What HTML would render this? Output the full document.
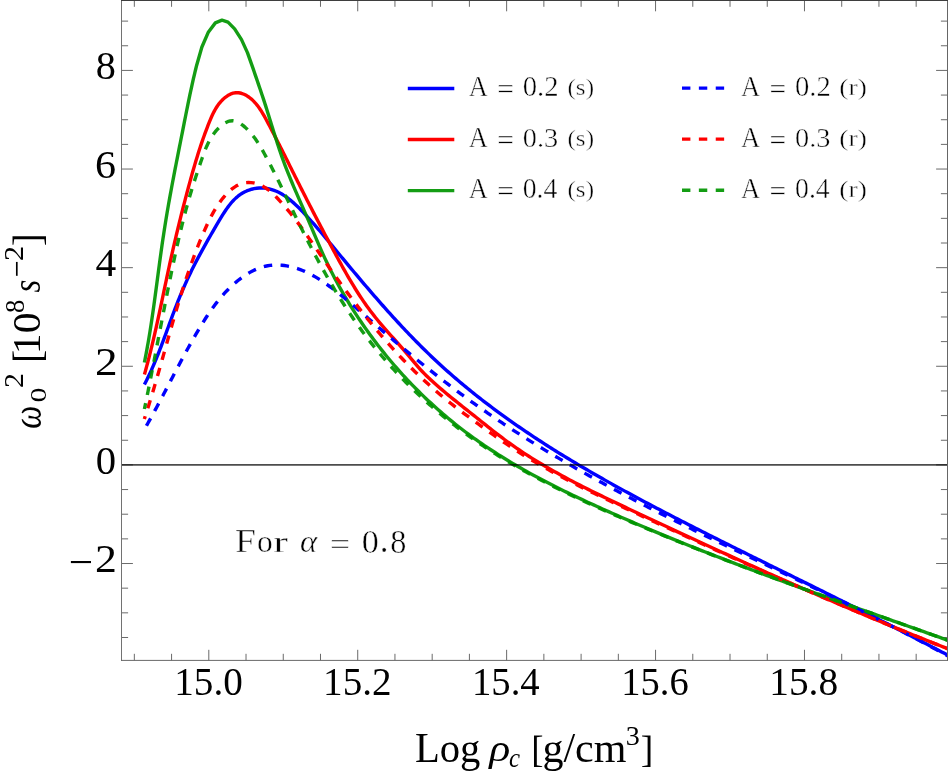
<!DOCTYPE html>
<html lang="en"><head><meta charset="utf-8"><title>Plot</title>
<style>
html,body{margin:0;padding:0;background:#ffffff;}
body{width:948px;height:778px;position:relative;overflow:hidden;font-family:"Liberation Serif",serif;}
svg text{font-family:"Liberation Serif",serif;white-space:pre;}
</style></head><body>
<svg width="948" height="778" viewBox="0 0 948 778" style="position:absolute;left:0;top:0;display:block">
<rect x="0" y="0" width="948" height="778" fill="#ffffff"/>
<defs><clipPath id="pc"><rect x="121.50" y="0.50" width="826.00" height="659.90"/></clipPath></defs>
<path d="M134.34,660.40 v-6.60 M134.34,0.50 v6.30 M171.57,660.40 v-6.60 M171.57,0.50 v6.30 M208.80,660.40 v-10.60 M208.80,0.50 v10.80 M246.03,660.40 v-6.60 M246.03,0.50 v6.30 M283.26,660.40 v-6.60 M283.26,0.50 v6.30 M320.49,660.40 v-6.60 M320.49,0.50 v6.30 M357.72,660.40 v-10.60 M357.72,0.50 v10.80 M394.95,660.40 v-6.60 M394.95,0.50 v6.30 M432.18,660.40 v-6.60 M432.18,0.50 v6.30 M469.41,660.40 v-6.60 M469.41,0.50 v6.30 M506.64,660.40 v-10.60 M506.64,0.50 v10.80 M543.87,660.40 v-6.60 M543.87,0.50 v6.30 M581.10,660.40 v-6.60 M581.10,0.50 v6.30 M618.33,660.40 v-6.60 M618.33,0.50 v6.30 M655.56,660.40 v-10.60 M655.56,0.50 v10.80 M692.79,660.40 v-6.60 M692.79,0.50 v6.30 M730.02,660.40 v-6.60 M730.02,0.50 v6.30 M767.25,660.40 v-6.60 M767.25,0.50 v6.30 M804.48,660.40 v-10.60 M804.48,0.50 v10.80 M841.71,660.40 v-6.60 M841.71,0.50 v6.30 M878.94,660.40 v-6.60 M878.94,0.50 v6.30 M916.17,660.40 v-6.60 M916.17,0.50 v6.30 M121.50,637.49 h6.60 M947.50,637.49 h-6.60 M121.50,612.83 h6.60 M947.50,612.83 h-6.60 M121.50,588.17 h6.60 M947.50,588.17 h-6.60 M121.50,563.52 h11.40 M947.50,563.52 h-11.40 M121.50,538.87 h6.60 M947.50,538.87 h-6.60 M121.50,514.21 h6.60 M947.50,514.21 h-6.60 M121.50,489.55 h6.60 M947.50,489.55 h-6.60 M121.50,464.90 h11.40 M947.50,464.90 h-11.40 M121.50,440.25 h6.60 M947.50,440.25 h-6.60 M121.50,415.59 h6.60 M947.50,415.59 h-6.60 M121.50,390.93 h6.60 M947.50,390.93 h-6.60 M121.50,366.28 h11.40 M947.50,366.28 h-11.40 M121.50,341.62 h6.60 M947.50,341.62 h-6.60 M121.50,316.97 h6.60 M947.50,316.97 h-6.60 M121.50,292.31 h6.60 M947.50,292.31 h-6.60 M121.50,267.66 h11.40 M947.50,267.66 h-11.40 M121.50,243.00 h6.60 M947.50,243.00 h-6.60 M121.50,218.35 h6.60 M947.50,218.35 h-6.60 M121.50,193.69 h6.60 M947.50,193.69 h-6.60 M121.50,169.04 h11.40 M947.50,169.04 h-11.40 M121.50,144.38 h6.60 M947.50,144.38 h-6.60 M121.50,119.73 h6.60 M947.50,119.73 h-6.60 M121.50,95.07 h6.60 M947.50,95.07 h-6.60 M121.50,70.42 h11.40 M947.50,70.42 h-11.40 M121.50,45.76 h6.60 M947.50,45.76 h-6.60 M121.50,21.11 h6.60 M947.50,21.11 h-6.60" stroke="#6a6a6a" stroke-width="1" fill="none"/>
<g clip-path="url(#pc)" fill="none" stroke-width="3.40" stroke-linejoin="round">
<path d="M144.41,384.50 L145.59,382.21 L146.75,379.90 L147.89,377.59 L149.00,375.26 L150.09,372.93 L151.16,370.59 L152.21,368.24 L153.24,365.88 L154.25,363.52 L155.25,361.15 L156.23,358.77 L157.20,356.39 L158.15,354.00 L159.09,351.61 L160.02,349.21 L160.94,346.81 L161.86,344.40 L162.76,341.99 L163.66,339.58 L164.55,337.17 L165.44,334.75 L166.33,332.34 L167.21,329.92 L168.10,327.50 L168.98,325.08 L169.87,322.67 L170.76,320.25 L171.65,317.83 L172.55,315.42 L173.45,313.01 L174.37,310.60 L175.29,308.19 L176.22,305.79 L177.16,303.39 L178.11,300.99 L179.08,298.60 L180.05,296.22 L181.05,293.84 L182.05,291.46 L183.07,289.09 L184.10,286.73 L185.14,284.37 L186.20,282.02 L187.27,279.67 L188.35,277.33 L189.45,275.00 L190.56,272.67 L191.68,270.35 L192.82,268.04 L193.98,265.74 L195.15,263.44 L196.33,261.15 L197.53,258.87 L198.74,256.60 L199.96,254.33 L201.19,252.08 L202.43,249.83 L203.67,247.59 L204.92,245.35 L206.17,243.13 L207.42,240.90 L208.67,238.69 L209.93,236.47 L211.20,234.26 L212.47,232.05 L213.75,229.83 L215.05,227.62 L216.35,225.40 L217.67,223.17 L219.01,220.94 L220.36,218.70 L221.73,216.45 L223.13,214.21 L224.55,211.98 L226.02,209.78 L227.54,207.62 L229.11,205.52 L230.74,203.48 L232.43,201.51 L234.21,199.64 L236.06,197.87 L238.01,196.21 L240.05,194.68 L242.19,193.29 L244.43,192.04 L246.75,190.95 L249.14,190.01 L251.59,189.24 L254.09,188.65 L256.62,188.23 L259.17,188.00 L261.72,187.95 L264.27,188.10 L266.79,188.42 L269.27,188.90 L271.70,189.55 L274.07,190.34 L276.39,191.27 L278.66,192.33 L280.89,193.51 L283.06,194.80 L285.20,196.20 L287.29,197.69 L289.34,199.26 L291.36,200.91 L293.34,202.63 L295.29,204.40 L297.20,206.22 L299.09,208.08 L300.95,209.97 L302.78,211.89 L304.59,213.81 L306.38,215.74 L308.15,217.68 L309.90,219.61 L311.63,221.55 L313.34,223.49 L315.05,225.43 L316.73,227.37 L318.41,229.32 L320.07,231.26 L321.73,233.21 L323.38,235.16 L325.02,237.12 L326.65,239.07 L328.28,241.03 L329.90,242.99 L331.52,244.94 L333.14,246.91 L334.77,248.87 L336.39,250.83 L338.01,252.80 L339.64,254.76 L341.27,256.73 L342.90,258.70 L344.54,260.67 L346.17,262.64 L347.81,264.61 L349.45,266.58 L351.10,268.55 L352.74,270.52 L354.39,272.49 L356.05,274.46 L357.70,276.43 L359.36,278.40 L361.02,280.36 L362.69,282.33 L364.36,284.29 L366.03,286.25 L367.70,288.21 L369.38,290.17 L371.06,292.13 L372.75,294.08 L374.44,296.04 L376.14,297.99 L377.84,299.93 L379.54,301.88 L381.25,303.82 L382.96,305.75 L384.67,307.69 L386.39,309.62 L388.12,311.54 L389.85,313.47 L391.58,315.38 L393.32,317.30 L395.06,319.21 L396.81,321.11 L398.57,323.01 L400.33,324.91 L402.09,326.80 L403.86,328.68 L405.64,330.56 L407.42,332.43 L409.20,334.30 L411.00,336.16 L412.79,338.01 L414.60,339.86 L416.41,341.71 L418.22,343.54 L420.05,345.37 L421.87,347.19 L423.71,349.00 L425.55,350.81 L427.40,352.61 L429.25,354.40 L431.11,356.18 L432.98,357.96 L434.86,359.73 L436.74,361.48 L438.62,363.23 L440.52,364.98 L442.42,366.71 L444.33,368.43 L446.25,370.15 L448.17,371.86 L450.10,373.56 L452.03,375.25 L453.97,376.94 L455.92,378.61 L457.87,380.28 L459.83,381.94 L461.80,383.60 L463.77,385.24 L465.75,386.88 L467.73,388.51 L469.73,390.13 L471.72,391.75 L473.72,393.36 L475.73,394.96 L477.75,396.55 L479.76,398.14 L481.79,399.72 L483.82,401.29 L485.86,402.86 L487.90,404.42 L489.94,405.97 L492.00,407.51 L494.05,409.05 L496.12,410.58 L498.18,412.10 L500.26,413.62 L502.33,415.13 L504.42,416.64 L506.50,418.14 L508.60,419.63 L510.69,421.11 L512.79,422.59 L514.90,424.07 L517.01,425.53 L519.13,426.99 L521.25,428.45 L523.37,429.90 L525.50,431.34 L527.63,432.78 L529.77,434.21 L531.91,435.64 L534.06,437.06 L536.21,438.47 L538.36,439.88 L540.52,441.28 L542.68,442.68 L544.85,444.07 L547.01,445.46 L549.19,446.84 L551.36,448.22 L553.54,449.59 L555.73,450.96 L557.91,452.32 L560.11,453.68 L562.30,455.03 L564.50,456.37 L566.70,457.72 L568.90,459.05 L571.11,460.39 L573.32,461.71 L575.53,463.04 L577.75,464.36 L579.96,465.67 L582.19,466.98 L584.41,468.29 L586.64,469.59 L588.87,470.89 L591.10,472.18 L593.33,473.47 L595.57,474.75 L597.81,476.04 L600.05,477.31 L602.30,478.59 L604.54,479.86 L606.79,481.12 L609.04,482.38 L611.30,483.64 L613.55,484.90 L615.81,486.15 L618.07,487.40 L620.33,488.64 L622.59,489.88 L624.85,491.12 L627.12,492.36 L629.39,493.59 L631.66,494.82 L633.93,496.04 L636.20,497.27 L638.47,498.49 L640.74,499.70 L643.02,500.92 L645.30,502.13 L647.58,503.34 L649.85,504.55 L652.13,505.75 L654.42,506.95 L656.70,508.15 L658.98,509.35 L661.26,510.54 L663.55,511.73 L665.83,512.92 L668.12,514.11 L670.41,515.29 L672.69,516.48 L674.98,517.66 L677.27,518.84 L679.56,520.01 L681.85,521.19 L684.14,522.36 L686.43,523.54 L688.72,524.71 L691.01,525.87 L693.31,527.04 L695.60,528.20 L697.89,529.37 L700.19,530.53 L702.48,531.69 L704.78,532.85 L707.08,534.01 L709.37,535.16 L711.67,536.32 L713.97,537.47 L716.27,538.62 L718.57,539.77 L720.87,540.92 L723.17,542.07 L725.47,543.22 L727.77,544.37 L730.07,545.51 L732.37,546.66 L734.67,547.80 L736.97,548.95 L739.27,550.09 L741.58,551.23 L743.88,552.37 L746.18,553.51 L748.49,554.65 L750.79,555.79 L753.09,556.93 L755.40,558.07 L757.70,559.21 L760.01,560.35 L762.31,561.48 L764.62,562.62 L766.92,563.76 L769.23,564.90 L771.54,566.03 L773.84,567.17 L776.15,568.31 L778.45,569.44 L780.76,570.58 L783.07,571.72 L785.37,572.86 L787.68,573.99 L789.99,575.13 L792.29,576.27 L794.60,577.41 L796.91,578.55 L799.21,579.69 L801.52,580.83 L803.83,581.97 L806.13,583.11 L808.44,584.25 L810.75,585.39 L813.05,586.53 L815.36,587.68 L817.67,588.82 L819.97,589.97 L822.28,591.11 L824.59,592.26 L826.89,593.41 L829.20,594.56 L831.50,595.71 L833.81,596.86 L836.12,598.01 L838.42,599.16 L840.73,600.31 L843.03,601.47 L845.33,602.62 L847.64,603.78 L849.94,604.93 L852.24,606.09 L854.55,607.25 L856.85,608.41 L859.15,609.57 L861.45,610.73 L863.76,611.89 L866.06,613.05 L868.36,614.22 L870.66,615.38 L872.96,616.55 L875.26,617.71 L877.55,618.88 L879.85,620.05 L882.15,621.22 L884.45,622.39 L886.74,623.56 L889.04,624.73 L891.33,625.90 L893.63,627.07 L895.92,628.25 L898.22,629.42 L900.51,630.60 L902.80,631.77 L905.09,632.95 L907.38,634.13 L909.67,635.30 L911.96,636.48 L914.25,637.66 L916.53,638.85 L918.82,640.03 L921.11,641.21 L923.39,642.39 L925.67,643.58 L927.96,644.76 L930.24,645.95 L932.52,647.14 L934.80,648.32 L937.08,649.51 L939.36,650.70 L941.63,651.89 L943.91,653.08 L946.19,654.28 L948.46,655.47" stroke="#0000ff"/>
<path d="M144.44,374.51 L145.24,371.65 L146.03,368.79 L146.80,365.92 L147.57,363.06 L148.32,360.19 L149.06,357.32 L149.79,354.45 L150.50,351.57 L151.21,348.70 L151.91,345.82 L152.60,342.94 L153.28,340.06 L153.95,337.18 L154.61,334.30 L155.27,331.42 L155.92,328.53 L156.57,325.65 L157.20,322.76 L157.84,319.87 L158.47,316.98 L159.09,314.09 L159.71,311.20 L160.33,308.31 L160.94,305.42 L161.56,302.52 L162.17,299.63 L162.78,296.73 L163.39,293.84 L164.00,290.94 L164.60,288.04 L165.21,285.15 L165.83,282.25 L166.44,279.35 L167.05,276.45 L167.67,273.55 L168.29,270.65 L168.92,267.76 L169.55,264.86 L170.18,261.96 L170.82,259.06 L171.47,256.16 L172.12,253.26 L172.78,250.36 L173.44,247.46 L174.10,244.57 L174.78,241.67 L175.46,238.77 L176.14,235.88 L176.83,232.99 L177.52,230.09 L178.22,227.20 L178.92,224.32 L179.63,221.43 L180.35,218.55 L181.06,215.67 L181.79,212.79 L182.52,209.91 L183.25,207.04 L183.99,204.17 L184.73,201.30 L185.48,198.44 L186.23,195.58 L186.99,192.72 L187.75,189.87 L188.52,187.02 L189.29,184.17 L190.06,181.33 L190.84,178.50 L191.63,175.66 L192.43,172.83 L193.23,170.01 L194.05,167.18 L194.88,164.36 L195.71,161.54 L196.57,158.73 L197.43,155.91 L198.31,153.09 L199.21,150.28 L200.12,147.47 L201.06,144.66 L202.01,141.84 L202.98,139.03 L203.98,136.22 L204.99,133.41 L206.04,130.59 L207.10,127.78 L208.19,124.96 L209.31,122.14 L210.46,119.33 L211.67,116.54 L212.95,113.80 L214.32,111.12 L215.79,108.51 L217.39,106.01 L219.12,103.61 L221.02,101.35 L223.08,99.23 L225.34,97.28 L227.78,95.56 L230.36,94.17 L233.05,93.19 L235.80,92.71 L238.58,92.74 L241.32,93.28 L244.01,94.26 L246.61,95.61 L249.09,97.24 L251.42,99.10 L253.58,101.13 L255.59,103.29 L257.47,105.59 L259.23,107.99 L260.90,110.48 L262.48,113.04 L264.00,115.65 L265.46,118.30 L266.90,120.96 L268.32,123.62 L269.73,126.28 L271.13,128.93 L272.52,131.59 L273.89,134.24 L275.26,136.88 L276.61,139.53 L277.96,142.17 L279.31,144.81 L280.64,147.45 L281.97,150.09 L283.30,152.73 L284.62,155.36 L285.93,158.00 L287.25,160.63 L288.56,163.26 L289.87,165.90 L291.19,168.53 L292.50,171.16 L293.81,173.80 L295.13,176.43 L296.45,179.06 L297.77,181.70 L299.09,184.34 L300.42,186.97 L301.76,189.61 L303.09,192.25 L304.43,194.89 L305.78,197.53 L307.12,200.17 L308.47,202.80 L309.83,205.44 L311.19,208.08 L312.55,210.72 L313.91,213.36 L315.28,215.99 L316.65,218.63 L318.03,221.26 L319.41,223.90 L320.79,226.53 L322.17,229.16 L323.56,231.79 L324.95,234.42 L326.34,237.04 L327.74,239.67 L329.14,242.29 L330.55,244.91 L331.95,247.52 L333.36,250.14 L334.77,252.75 L336.19,255.36 L337.61,257.97 L339.03,260.57 L340.46,263.17 L341.89,265.76 L343.33,268.35 L344.79,270.93 L346.25,273.50 L347.72,276.07 L349.21,278.63 L350.71,281.17 L352.22,283.71 L353.76,286.24 L355.30,288.75 L356.87,291.25 L358.46,293.74 L360.07,296.21 L361.70,298.67 L363.35,301.12 L365.03,303.54 L366.73,305.95 L368.46,308.35 L370.22,310.72 L372.01,313.08 L373.83,315.41 L375.68,317.73 L377.55,320.03 L379.45,322.31 L381.38,324.58 L383.32,326.83 L385.27,329.08 L387.24,331.31 L389.21,333.54 L391.19,335.77 L393.18,337.99 L395.16,340.21 L397.14,342.43 L399.12,344.65 L401.08,346.88 L403.04,349.11 L404.97,351.35 L406.89,353.60 L408.79,355.86 L410.67,358.13 L412.55,360.39 L414.44,362.65 L416.34,364.90 L418.27,367.12 L420.24,369.31 L422.25,371.47 L424.31,373.60 L426.41,375.69 L428.54,377.75 L430.71,379.79 L432.90,381.80 L435.11,383.79 L437.34,385.75 L439.58,387.70 L441.83,389.63 L444.09,391.55 L446.36,393.45 L448.64,395.34 L450.93,397.21 L453.23,399.08 L455.53,400.94 L457.83,402.79 L460.14,404.64 L462.46,406.48 L464.77,408.32 L467.09,410.16 L469.41,412.00 L471.73,413.84 L474.05,415.69 L476.37,417.54 L478.69,419.39 L481.01,421.24 L483.34,423.10 L485.66,424.95 L487.99,426.80 L490.32,428.64 L492.66,430.48 L495.00,432.30 L497.36,434.12 L499.71,435.92 L502.08,437.72 L504.46,439.49 L506.85,441.25 L509.25,442.99 L511.66,444.71 L514.08,446.42 L516.51,448.10 L518.96,449.77 L521.41,451.42 L523.88,453.05 L526.36,454.66 L528.84,456.26 L531.34,457.84 L533.85,459.41 L536.36,460.96 L538.89,462.49 L541.42,464.01 L543.96,465.52 L546.51,467.01 L549.07,468.49 L551.63,469.96 L554.21,471.41 L556.79,472.85 L559.38,474.28 L561.97,475.70 L564.57,477.11 L567.18,478.51 L569.79,479.90 L572.41,481.27 L575.04,482.64 L577.67,484.00 L580.30,485.35 L582.94,486.70 L585.59,488.03 L588.24,489.36 L590.89,490.68 L593.55,492.00 L596.21,493.30 L598.87,494.61 L601.54,495.90 L604.21,497.20 L606.88,498.48 L609.55,499.77 L612.23,501.05 L614.90,502.33 L617.58,503.60 L620.26,504.87 L622.95,506.14 L625.63,507.41 L628.31,508.68 L630.99,509.94 L633.68,511.21 L636.36,512.47 L639.05,513.74 L641.73,515.00 L644.41,516.26 L647.10,517.52 L649.78,518.78 L652.47,520.04 L655.15,521.30 L657.84,522.56 L660.52,523.82 L663.21,525.07 L665.90,526.33 L668.58,527.58 L671.27,528.83 L673.96,530.09 L676.64,531.34 L679.33,532.59 L682.02,533.84 L684.71,535.08 L687.40,536.33 L690.09,537.58 L692.78,538.82 L695.47,540.07 L698.16,541.31 L700.85,542.55 L703.54,543.79 L706.23,545.03 L708.92,546.27 L711.62,547.50 L714.31,548.74 L717.00,549.97 L719.70,551.21 L722.39,552.44 L725.09,553.67 L727.78,554.90 L730.48,556.13 L733.18,557.36 L735.87,558.58 L738.57,559.81 L741.27,561.03 L743.97,562.25 L746.67,563.47 L749.37,564.69 L752.07,565.91 L754.77,567.12 L757.47,568.34 L760.17,569.55 L762.87,570.76 L765.58,571.97 L768.28,573.18 L770.98,574.39 L773.69,575.60 L776.39,576.80 L779.10,578.00 L781.81,579.21 L784.52,580.40 L787.22,581.60 L789.93,582.80 L792.64,583.99 L795.35,585.19 L798.06,586.38 L800.78,587.57 L803.49,588.76 L806.20,589.94 L808.92,591.13 L811.63,592.31 L814.35,593.49 L817.06,594.67 L819.78,595.85 L822.50,597.03 L825.22,598.20 L827.94,599.38 L830.66,600.55 L833.38,601.72 L836.10,602.88 L838.82,604.05 L841.55,605.21 L844.27,606.37 L847.00,607.53 L849.72,608.69 L852.45,609.85 L855.18,611.00 L857.91,612.15 L860.64,613.30 L863.37,614.45 L866.10,615.60 L868.83,616.74 L871.56,617.88 L874.30,619.02 L877.03,620.16 L879.77,621.30 L882.51,622.43 L885.25,623.56 L887.99,624.69 L890.73,625.82 L893.47,626.94 L896.21,628.07 L898.95,629.19 L901.70,630.31 L904.44,631.42 L907.19,632.54 L909.94,633.65 L912.68,634.76 L915.43,635.87 L918.19,636.97 L920.94,638.08 L923.69,639.18 L926.44,640.27 L929.20,641.37 L931.96,642.46 L934.71,643.55 L937.47,644.64 L940.23,645.73 L942.99,646.81 L945.75,647.90 L948.52,648.98" stroke="#ff0000"/>
<path d="M144.39,362.50 L145.03,359.29 L145.66,356.07 L146.28,352.86 L146.88,349.64 L147.46,346.42 L148.03,343.19 L148.59,339.96 L149.13,336.73 L149.67,333.50 L150.19,330.27 L150.70,327.03 L151.20,323.79 L151.69,320.55 L152.17,317.31 L152.65,314.07 L153.11,310.83 L153.58,307.58 L154.03,304.33 L154.48,301.09 L154.92,297.84 L155.36,294.59 L155.80,291.34 L156.24,288.09 L156.67,284.84 L157.10,281.59 L157.53,278.33 L157.96,275.08 L158.39,271.83 L158.82,268.58 L159.26,265.33 L159.69,262.08 L160.13,258.84 L160.58,255.59 L161.03,252.34 L161.48,249.10 L161.94,245.85 L162.40,242.61 L162.88,239.37 L163.36,236.13 L163.84,232.89 L164.34,229.65 L164.85,226.42 L165.37,223.19 L165.89,219.96 L166.43,216.73 L166.97,213.50 L167.52,210.28 L168.08,207.05 L168.64,203.83 L169.21,200.61 L169.79,197.39 L170.38,194.17 L170.97,190.95 L171.56,187.74 L172.16,184.52 L172.77,181.30 L173.38,178.09 L173.99,174.87 L174.61,171.66 L175.23,168.44 L175.86,165.23 L176.49,162.01 L177.12,158.80 L177.75,155.58 L178.38,152.37 L179.02,149.15 L179.65,145.93 L180.29,142.72 L180.93,139.50 L181.56,136.28 L182.20,133.06 L182.84,129.84 L183.47,126.62 L184.11,123.40 L184.74,120.18 L185.38,116.96 L186.02,113.74 L186.67,110.52 L187.32,107.30 L187.97,104.09 L188.63,100.87 L189.30,97.66 L189.97,94.46 L190.66,91.25 L191.35,88.06 L192.05,84.86 L192.76,81.67 L193.48,78.49 L194.22,75.31 L194.97,72.14 L195.73,68.98 L196.50,65.82 L196.53,65.70 L201.90,47.02 L208.46,31.93 L215.35,22.89 L221.98,20.20 L228.01,22.11 L234.62,28.86 L241.51,39.59 L247.44,52.62 L253.38,69.43 L254.17,71.73 L255.22,74.83 L256.28,77.92 L257.35,81.02 L258.41,84.12 L259.47,87.22 L260.53,90.32 L261.57,93.42 L262.61,96.53 L263.64,99.65 L264.65,102.76 L265.65,105.89 L266.64,109.01 L267.62,112.14 L268.59,115.27 L269.56,118.40 L270.53,121.53 L271.50,124.67 L272.47,127.80 L273.44,130.93 L274.42,134.06 L275.40,137.18 L276.40,140.30 L277.40,143.42 L278.42,146.53 L279.46,149.64 L280.51,152.74 L281.59,155.83 L282.68,158.92 L283.80,161.99 L284.95,165.06 L286.12,168.11 L287.31,171.16 L288.53,174.20 L289.76,177.23 L291.01,180.26 L292.28,183.28 L293.56,186.30 L294.85,189.31 L296.16,192.32 L297.47,195.32 L298.78,198.33 L300.10,201.33 L301.42,204.33 L302.74,207.33 L304.05,210.33 L305.37,213.33 L306.67,216.34 L307.97,219.35 L309.26,222.36 L310.54,225.37 L311.82,228.39 L313.10,231.40 L314.38,234.41 L315.66,237.43 L316.95,240.44 L318.24,243.44 L319.54,246.44 L320.86,249.44 L322.19,252.43 L323.54,255.41 L324.91,258.38 L326.30,261.34 L327.71,264.30 L329.14,267.24 L330.60,270.18 L332.08,273.10 L333.58,276.01 L335.11,278.92 L336.65,281.81 L338.22,284.69 L339.81,287.56 L341.42,290.41 L343.05,293.26 L344.71,296.09 L346.38,298.92 L348.07,301.73 L349.78,304.53 L351.51,307.31 L353.27,310.09 L355.04,312.85 L356.83,315.60 L358.63,318.33 L360.46,321.06 L362.31,323.77 L364.17,326.46 L366.05,329.15 L367.95,331.82 L369.87,334.47 L371.80,337.12 L373.76,339.75 L375.73,342.36 L377.72,344.96 L379.73,347.55 L381.75,350.12 L383.79,352.68 L385.85,355.22 L387.93,357.75 L390.03,360.27 L392.14,362.77 L394.27,365.25 L396.41,367.72 L398.58,370.18 L400.76,372.61 L402.96,375.04 L405.17,377.45 L407.40,379.84 L409.65,382.21 L411.92,384.58 L414.20,386.92 L416.50,389.25 L418.81,391.56 L421.14,393.86 L423.49,396.13 L425.85,398.40 L428.23,400.64 L430.63,402.87 L433.04,405.08 L435.47,407.28 L437.92,409.46 L440.38,411.62 L442.85,413.76 L445.34,415.88 L447.85,417.99 L450.37,420.08 L452.91,422.15 L455.47,424.21 L458.04,426.24 L460.62,428.26 L463.22,430.26 L465.84,432.24 L468.47,434.20 L471.11,436.14 L473.77,438.07 L476.44,439.97 L479.13,441.86 L481.83,443.73 L484.54,445.58 L487.27,447.41 L490.01,449.23 L492.75,451.02 L495.51,452.80 L498.28,454.57 L501.06,456.31 L503.84,458.04 L506.64,459.75 L509.44,461.45 L512.25,463.13 L515.06,464.79 L517.88,466.44 L520.71,468.07 L523.55,469.68 L526.39,471.28 L529.23,472.87 L532.09,474.44 L534.95,476.00 L537.82,477.54 L540.69,479.08 L543.58,480.60 L546.47,482.10 L549.37,483.60 L552.28,485.09 L555.20,486.56 L558.12,488.03 L561.05,489.48 L563.98,490.92 L566.93,492.36 L569.87,493.78 L572.83,495.20 L575.79,496.61 L578.75,498.01 L581.72,499.40 L584.69,500.79 L587.66,502.17 L590.64,503.54 L593.63,504.90 L596.61,506.26 L599.60,507.62 L602.59,508.96 L605.58,510.31 L608.57,511.64 L611.57,512.98 L614.57,514.30 L617.57,515.63 L620.57,516.94 L623.57,518.25 L626.58,519.56 L629.58,520.86 L632.59,522.16 L635.60,523.45 L638.62,524.74 L641.63,526.02 L644.65,527.30 L647.67,528.58 L650.69,529.85 L653.71,531.11 L656.73,532.37 L659.76,533.63 L662.78,534.88 L665.81,536.13 L668.84,537.37 L671.87,538.61 L674.91,539.85 L677.94,541.08 L680.98,542.31 L684.02,543.53 L687.06,544.75 L690.10,545.97 L693.14,547.18 L696.18,548.39 L699.23,549.60 L702.28,550.80 L705.32,552.00 L708.37,553.19 L711.42,554.38 L714.48,555.57 L717.53,556.76 L720.58,557.94 L723.64,559.12 L726.70,560.29 L729.75,561.47 L732.81,562.64 L735.87,563.80 L738.94,564.97 L742.00,566.13 L745.06,567.29 L748.13,568.44 L751.19,569.60 L754.26,570.75 L757.33,571.90 L760.39,573.04 L763.46,574.18 L766.53,575.33 L769.61,576.46 L772.68,577.60 L775.75,578.73 L778.82,579.87 L781.90,581.00 L784.97,582.12 L788.05,583.25 L791.13,584.38 L794.20,585.50 L797.28,586.62 L800.36,587.74 L803.44,588.85 L806.52,589.97 L809.60,591.08 L812.68,592.20 L815.77,593.31 L818.85,594.42 L821.93,595.53 L825.01,596.63 L828.10,597.74 L831.18,598.84 L834.27,599.95 L837.35,601.05 L840.44,602.15 L843.52,603.25 L846.61,604.35 L849.70,605.45 L852.78,606.55 L855.87,607.65 L858.96,608.74 L862.05,609.84 L865.13,610.94 L868.22,612.03 L871.31,613.13 L874.40,614.22 L877.49,615.31 L880.57,616.41 L883.66,617.50 L886.75,618.59 L889.84,619.69 L892.93,620.78 L896.02,621.87 L899.10,622.97 L902.19,624.06 L905.28,625.15 L908.37,626.25 L911.46,627.34 L914.54,628.44 L917.63,629.53 L920.72,630.63 L923.81,631.72 L926.89,632.82 L929.98,633.92 L933.07,635.02 L936.15,636.11 L939.24,637.21 L942.32,638.31 L945.41,639.42 L948.49,640.52" stroke="#009500" stroke-opacity="0.92"/>
<path d="M144.30,429.51 L145.50,427.42 L146.69,425.34 L147.87,423.25 L149.04,421.16 L150.21,419.07 L151.37,416.97 L152.52,414.88 L153.67,412.78 L154.81,410.68 L155.95,408.57 L157.08,406.47 L158.21,404.36 L159.33,402.26 L160.46,400.15 L161.57,398.04 L162.69,395.93 L163.80,393.82 L164.91,391.71 L166.02,389.59 L167.13,387.48 L168.24,385.37 L169.35,383.26 L170.45,381.14 L171.56,379.03 L172.67,376.92 L173.77,374.81 L174.88,372.70 L176.00,370.59 L177.11,368.48 L178.23,366.37 L179.34,364.26 L180.47,362.15 L181.59,360.05 L182.72,357.95 L183.85,355.84 L184.99,353.74 L186.14,351.65 L187.29,349.55 L188.44,347.46 L189.60,345.37 L190.77,343.28 L191.94,341.19 L193.12,339.11 L194.31,337.03 L195.51,334.95 L196.71,332.88 L197.93,330.81 L199.15,328.74 L200.39,326.68 L201.64,324.63 L202.90,322.58 L204.17,320.55 L205.46,318.52 L206.77,316.51 L208.09,314.51 L209.43,312.53 L210.79,310.56 L212.18,308.60 L213.58,306.67 L215.01,304.75 L216.46,302.85 L217.93,300.98 L219.44,299.12 L220.96,297.29 L222.52,295.49 L224.11,293.71 L225.72,291.96 L227.37,290.24 L229.05,288.54 L230.76,286.88 L232.51,285.25 L234.29,283.65 L236.11,282.08 L237.96,280.56 L239.86,279.06 L241.79,277.62 L243.76,276.22 L245.77,274.87 L247.81,273.59 L249.89,272.37 L252.00,271.22 L254.15,270.16 L256.33,269.18 L258.54,268.29 L260.78,267.49 L263.05,266.80 L265.36,266.22 L267.69,265.75 L270.05,265.40 L272.43,265.17 L274.83,265.05 L277.23,265.03 L279.62,265.11 L282.01,265.28 L284.38,265.55 L286.73,265.90 L289.06,266.33 L291.36,266.84 L293.64,267.43 L295.90,268.09 L298.14,268.82 L300.35,269.62 L302.55,270.49 L304.72,271.41 L306.88,272.40 L309.02,273.44 L311.14,274.53 L313.24,275.67 L315.32,276.86 L317.39,278.10 L319.43,279.37 L321.47,280.68 L323.48,282.03 L325.48,283.41 L327.47,284.82 L329.44,286.25 L331.40,287.71 L333.34,289.18 L335.27,290.68 L337.19,292.19 L339.09,293.71 L340.98,295.24 L342.86,296.77 L344.73,298.31 L346.59,299.85 L348.44,301.39 L350.28,302.93 L352.11,304.48 L353.94,306.02 L355.75,307.57 L357.56,309.12 L359.37,310.67 L361.17,312.22 L362.97,313.77 L364.76,315.33 L366.55,316.88 L368.33,318.43 L370.12,319.98 L371.90,321.54 L373.69,323.09 L375.47,324.64 L377.25,326.19 L379.04,327.74 L380.83,329.29 L382.62,330.84 L384.42,332.39 L386.22,333.94 L388.02,335.48 L389.82,337.02 L391.63,338.57 L393.44,340.11 L395.26,341.64 L397.08,343.18 L398.90,344.72 L400.72,346.25 L402.55,347.78 L404.38,349.31 L406.21,350.84 L408.05,352.36 L409.89,353.88 L411.73,355.40 L413.58,356.92 L415.43,358.44 L417.28,359.95 L419.14,361.46 L421.00,362.96 L422.86,364.47 L424.73,365.97 L426.60,367.47 L428.47,368.96 L430.34,370.45 L432.22,371.94 L434.10,373.43 L435.99,374.91 L437.88,376.39 L439.77,377.86 L441.66,379.33 L443.56,380.80 L445.46,382.26 L447.36,383.72 L449.27,385.17 L451.18,386.63 L453.09,388.07 L455.01,389.52 L456.92,390.95 L458.85,392.39 L460.77,393.82 L462.70,395.24 L464.63,396.66 L466.56,398.08 L468.50,399.49 L470.44,400.89 L472.38,402.29 L474.33,403.69 L476.28,405.08 L478.23,406.47 L480.19,407.85 L482.14,409.22 L484.11,410.59 L486.07,411.96 L488.04,413.32 L490.01,414.68 L491.98,416.03 L493.95,417.37 L495.93,418.72 L497.91,420.05 L499.90,421.39 L501.88,422.71 L503.87,424.04 L505.87,425.35 L507.86,426.67 L509.86,427.98 L511.86,429.28 L513.86,430.58 L515.86,431.88 L517.87,433.17 L519.88,434.46 L521.90,435.74 L523.91,437.02 L525.93,438.30 L527.95,439.57 L529.97,440.84 L532.00,442.10 L534.02,443.36 L536.05,444.61 L538.09,445.86 L540.12,447.11 L542.16,448.35 L544.20,449.59 L546.24,450.83 L548.28,452.06 L550.33,453.29 L552.38,454.51 L554.43,455.73 L556.48,456.95 L558.53,458.16 L560.59,459.37 L562.65,460.57 L564.71,461.78 L566.77,462.97 L568.84,464.17 L570.91,465.36 L572.98,466.55 L575.05,467.73 L577.12,468.92 L579.19,470.09 L581.27,471.27 L583.35,472.44 L585.43,473.61 L587.51,474.78 L589.60,475.94 L591.68,477.10 L593.77,478.26 L595.86,479.41 L597.95,480.56 L600.05,481.71 L602.14,482.85 L604.24,483.99 L606.34,485.13 L608.43,486.27 L610.54,487.40 L612.64,488.54 L614.74,489.66 L616.85,490.79 L618.96,491.91 L621.07,493.03 L623.18,494.15 L625.29,495.27 L627.40,496.38 L629.52,497.49 L631.63,498.60 L633.75,499.71 L635.87,500.81 L637.99,501.91 L640.11,503.01 L642.23,504.11 L644.36,505.20 L646.48,506.30 L648.61,507.39 L650.74,508.48 L652.87,509.56 L655.00,510.65 L657.13,511.73 L659.26,512.81 L661.39,513.89 L663.53,514.97 L665.66,516.04 L667.80,517.12 L669.94,518.19 L672.08,519.26 L674.22,520.33 L676.36,521.39 L678.50,522.46 L680.64,523.52 L682.78,524.58 L684.93,525.65 L687.07,526.71 L689.22,527.76 L691.37,528.82 L693.51,529.87 L695.66,530.93 L697.81,531.98 L699.96,533.03 L702.11,534.08 L704.26,535.13 L706.41,536.18 L708.56,537.23 L710.72,538.27 L712.87,539.32 L715.02,540.36 L717.18,541.40 L719.33,542.45 L721.49,543.49 L723.64,544.53 L725.80,545.57 L727.96,546.61 L730.11,547.64 L732.27,548.68 L734.43,549.72 L736.59,550.75 L738.75,551.79 L740.90,552.82 L743.06,553.86 L745.22,554.89 L747.38,555.93 L749.54,556.96 L751.70,557.99 L753.86,559.02 L756.02,560.06 L758.18,561.09 L760.34,562.12 L762.50,563.15 L764.66,564.18 L766.82,565.21 L768.99,566.24 L771.15,567.28 L773.31,568.31 L775.47,569.34 L777.63,570.37 L779.79,571.40 L781.95,572.43 L784.11,573.46 L786.27,574.49 L788.43,575.53 L790.59,576.56 L792.75,577.59 L794.91,578.62 L797.07,579.66 L799.23,580.69 L801.38,581.72 L803.54,582.76 L805.70,583.79 L807.86,584.83 L810.01,585.87 L812.17,586.90 L814.33,587.94 L816.48,588.98 L818.64,590.02 L820.79,591.06 L822.95,592.10 L825.10,593.14 L827.25,594.18 L829.41,595.22 L831.56,596.27 L833.71,597.31 L835.86,598.36 L838.01,599.41 L840.16,600.46 L842.31,601.50 L844.45,602.56 L846.60,603.61 L848.75,604.66 L850.89,605.71 L853.04,606.77 L855.18,607.83 L857.32,608.89 L859.47,609.95 L861.61,611.01 L863.75,612.07 L865.89,613.13 L868.03,614.20 L870.16,615.27 L872.30,616.34 L874.43,617.41 L876.57,618.48 L878.70,619.55 L880.83,620.63 L882.96,621.71 L885.09,622.79 L887.22,623.87 L889.35,624.95 L891.48,626.04 L893.60,627.12 L895.73,628.21 L897.85,629.31 L899.97,630.40 L902.09,631.49 L904.21,632.59 L906.33,633.69 L908.44,634.79 L910.56,635.90 L912.67,637.01 L914.78,638.12 L916.89,639.23 L919.00,640.34 L921.11,641.46 L923.21,642.58 L925.32,643.70 L927.42,644.82 L929.52,645.95 L931.62,647.08 L933.72,648.21 L935.81,649.34 L937.91,650.48 L940.00,651.62 L942.09,652.76 L944.18,653.91 L946.27,655.06 L948.35,656.21" stroke="#0000ff" stroke-dasharray="8.500 8.355" stroke-dashoffset="12.55"/>
<path d="M144.33,419.01 L145.17,416.45 L146.00,413.89 L146.82,411.33 L147.64,408.77 L148.45,406.20 L149.25,403.63 L150.05,401.06 L150.84,398.49 L151.62,395.92 L152.40,393.35 L153.17,390.77 L153.93,388.19 L154.70,385.62 L155.45,383.04 L156.21,380.46 L156.96,377.88 L157.70,375.30 L158.44,372.71 L159.18,370.13 L159.92,367.55 L160.66,364.96 L161.39,362.38 L162.12,359.79 L162.85,357.21 L163.58,354.62 L164.31,352.04 L165.04,349.45 L165.77,346.86 L166.50,344.28 L167.23,341.69 L167.96,339.11 L168.69,336.52 L169.43,333.94 L170.16,331.35 L170.90,328.77 L171.64,326.18 L172.38,323.60 L173.13,321.02 L173.88,318.43 L174.63,315.85 L175.39,313.27 L176.16,310.69 L176.92,308.11 L177.70,305.54 L178.47,302.96 L179.26,300.39 L180.05,297.81 L180.85,295.24 L181.65,292.67 L182.46,290.10 L183.28,287.53 L184.10,284.97 L184.94,282.41 L185.78,279.85 L186.63,277.29 L187.49,274.73 L188.36,272.18 L189.23,269.64 L190.12,267.09 L191.02,264.55 L191.93,262.02 L192.85,259.49 L193.78,256.97 L194.72,254.45 L195.68,251.94 L196.65,249.43 L197.63,246.93 L198.62,244.44 L199.62,241.95 L200.64,239.47 L201.68,237.00 L202.72,234.54 L203.78,232.08 L204.86,229.63 L205.95,227.20 L207.06,224.77 L208.19,222.35 L209.35,219.95 L210.55,217.56 L211.78,215.19 L213.06,212.84 L214.39,210.51 L215.78,208.20 L217.23,205.91 L218.74,203.66 L220.34,201.43 L222.01,199.23 L223.77,197.07 L225.61,194.96 L227.54,192.92 L229.55,191.00 L231.64,189.20 L233.82,187.56 L236.07,186.11 L238.40,184.87 L240.81,183.87 L243.29,183.13 L245.84,182.68 L248.44,182.50 L251.05,182.59 L253.65,182.93 L256.21,183.51 L258.71,184.33 L261.11,185.36 L263.44,186.58 L265.69,187.97 L267.87,189.52 L269.98,191.20 L272.04,192.98 L274.04,194.86 L275.99,196.81 L277.91,198.80 L279.79,200.81 L281.63,202.85 L283.45,204.90 L285.24,206.96 L287.00,209.03 L288.74,211.12 L290.45,213.22 L292.14,215.33 L293.80,217.45 L295.45,219.58 L297.08,221.73 L298.69,223.88 L300.28,226.03 L301.86,228.20 L303.43,230.37 L304.98,232.55 L306.53,234.73 L308.06,236.92 L309.59,239.11 L311.11,241.31 L312.63,243.51 L314.15,245.71 L315.66,247.91 L317.17,250.12 L318.69,252.32 L320.21,254.53 L321.73,256.73 L323.25,258.93 L324.78,261.13 L326.31,263.33 L327.85,265.53 L329.39,267.72 L330.94,269.92 L332.49,272.11 L334.04,274.30 L335.60,276.49 L337.17,278.67 L338.74,280.85 L340.31,283.03 L341.89,285.21 L343.48,287.38 L345.07,289.55 L346.66,291.71 L348.27,293.87 L349.88,296.03 L351.49,298.18 L353.11,300.33 L354.74,302.48 L356.37,304.62 L358.01,306.75 L359.66,308.88 L361.31,311.00 L362.97,313.12 L364.64,315.24 L366.32,317.34 L368.00,319.45 L369.69,321.54 L371.39,323.63 L373.10,325.71 L374.81,327.79 L376.53,329.86 L378.26,331.92 L380.00,333.98 L381.75,336.03 L383.50,338.07 L385.26,340.10 L387.04,342.13 L388.82,344.14 L390.61,346.15 L392.41,348.15 L394.22,350.15 L396.04,352.13 L397.87,354.10 L399.70,356.07 L401.55,358.03 L403.41,359.97 L405.28,361.91 L407.16,363.84 L409.04,365.76 L410.94,367.67 L412.85,369.56 L414.77,371.45 L416.69,373.33 L418.63,375.20 L420.58,377.05 L422.54,378.90 L424.51,380.73 L426.48,382.55 L428.47,384.36 L430.47,386.16 L432.48,387.95 L434.49,389.73 L436.52,391.49 L438.56,393.24 L440.60,394.98 L442.66,396.71 L444.73,398.42 L446.80,400.12 L448.89,401.81 L450.99,403.49 L453.09,405.15 L455.21,406.80 L457.33,408.44 L459.46,410.06 L461.60,411.68 L463.75,413.29 L465.90,414.89 L468.06,416.49 L470.22,418.08 L472.39,419.67 L474.56,421.25 L476.73,422.84 L478.91,424.42 L481.08,426.01 L483.26,427.59 L485.44,429.17 L487.62,430.76 L489.81,432.33 L491.99,433.91 L494.19,435.48 L496.38,437.04 L498.59,438.59 L500.79,440.14 L503.01,441.68 L505.23,443.20 L507.46,444.71 L509.69,446.21 L511.93,447.70 L514.18,449.17 L516.44,450.63 L518.71,452.08 L520.98,453.52 L523.26,454.94 L525.54,456.36 L527.83,457.76 L530.13,459.15 L532.43,460.53 L534.74,461.90 L537.06,463.25 L539.38,464.60 L541.71,465.94 L544.04,467.27 L546.38,468.58 L548.72,469.89 L551.07,471.19 L553.42,472.48 L555.78,473.77 L558.14,475.04 L560.51,476.31 L562.88,477.57 L565.26,478.82 L567.64,480.06 L570.02,481.30 L572.41,482.53 L574.80,483.75 L577.20,484.97 L579.60,486.18 L582.00,487.39 L584.40,488.59 L586.81,489.78 L589.22,490.97 L591.63,492.16 L594.05,493.34 L596.47,494.51 L598.89,495.68 L601.31,496.85 L603.73,498.02 L606.16,499.18 L608.59,500.33 L611.02,501.49 L613.45,502.64 L615.88,503.79 L618.31,504.94 L620.74,506.09 L623.18,507.23 L625.61,508.38 L628.05,509.52 L630.49,510.66 L632.92,511.80 L635.36,512.94 L637.80,514.08 L640.23,515.22 L642.67,516.36 L645.11,517.49 L647.55,518.63 L649.99,519.76 L652.43,520.90 L654.86,522.03 L657.30,523.16 L659.74,524.30 L662.19,525.43 L664.63,526.56 L667.07,527.69 L669.51,528.82 L671.95,529.94 L674.39,531.07 L676.84,532.20 L679.28,533.32 L681.72,534.45 L684.17,535.57 L686.61,536.69 L689.05,537.81 L691.50,538.93 L693.94,540.05 L696.39,541.17 L698.84,542.29 L701.28,543.41 L703.73,544.52 L706.18,545.64 L708.63,546.75 L711.07,547.86 L713.52,548.98 L715.97,550.09 L718.42,551.20 L720.87,552.31 L723.32,553.41 L725.77,554.52 L728.22,555.63 L730.67,556.73 L733.13,557.84 L735.58,558.94 L738.03,560.04 L740.49,561.14 L742.94,562.24 L745.39,563.34 L747.85,564.44 L750.30,565.53 L752.76,566.63 L755.22,567.72 L757.67,568.82 L760.13,569.91 L762.59,571.00 L765.04,572.09 L767.50,573.18 L769.96,574.26 L772.42,575.35 L774.88,576.44 L777.34,577.52 L779.80,578.60 L782.27,579.68 L784.73,580.76 L787.19,581.84 L789.65,582.92 L792.12,584.00 L794.58,585.07 L797.05,586.15 L799.51,587.22 L801.98,588.29 L804.44,589.36 L806.91,590.43 L809.38,591.50 L811.84,592.57 L814.31,593.63 L816.78,594.70 L819.25,595.76 L821.72,596.82 L824.19,597.88 L826.66,598.94 L829.14,600.00 L831.61,601.06 L834.08,602.11 L836.55,603.17 L839.03,604.22 L841.50,605.27 L843.98,606.32 L846.45,607.37 L848.93,608.41 L851.41,609.46 L853.89,610.50 L856.36,611.55 L858.84,612.59 L861.32,613.63 L863.80,614.67 L866.28,615.70 L868.76,616.74 L871.25,617.77 L873.73,618.81 L876.21,619.84 L878.69,620.87 L881.18,621.90 L883.66,622.92 L886.15,623.95 L888.64,624.97 L891.12,626.00 L893.61,627.02 L896.10,628.04 L898.59,629.06 L901.08,630.07 L903.57,631.09 L906.06,632.10 L908.55,633.11 L911.04,634.12 L913.53,635.13 L916.03,636.14 L918.52,637.15 L921.02,638.15 L923.51,639.15 L926.01,640.15 L928.51,641.15 L931.00,642.15 L933.50,643.15 L936.00,644.14 L938.50,645.13 L941.00,646.13 L943.50,647.12 L946.00,648.10 L948.51,649.09" stroke="#ff0000" stroke-dasharray="8.500 8.355" stroke-dashoffset="5.65"/>
<path d="M144.41,409.00 L145.01,406.12 L145.60,403.24 L146.20,400.36 L146.79,397.48 L147.38,394.60 L147.96,391.72 L148.54,388.83 L149.12,385.95 L149.70,383.07 L150.27,380.19 L150.84,377.30 L151.41,374.42 L151.98,371.53 L152.54,368.65 L153.11,365.77 L153.67,362.88 L154.23,360.00 L154.79,357.11 L155.35,354.23 L155.91,351.34 L156.46,348.46 L157.02,345.57 L157.58,342.69 L158.13,339.80 L158.69,336.92 L159.25,334.03 L159.80,331.14 L160.36,328.26 L160.92,325.37 L161.47,322.49 L162.03,319.60 L162.59,316.72 L163.15,313.83 L163.71,310.95 L164.28,308.06 L164.84,305.18 L165.41,302.29 L165.98,299.41 L166.55,296.53 L167.12,293.64 L167.70,290.76 L168.28,287.87 L168.86,284.99 L169.44,282.11 L170.03,279.23 L170.62,276.34 L171.21,273.46 L171.81,270.58 L172.41,267.70 L173.01,264.82 L173.62,261.94 L174.23,259.06 L174.85,256.18 L175.48,253.31 L176.11,250.43 L176.75,247.56 L177.39,244.69 L178.04,241.82 L178.70,238.95 L179.37,236.09 L180.05,233.23 L180.73,230.37 L181.42,227.51 L182.12,224.65 L182.84,221.80 L183.56,218.95 L184.29,216.11 L185.03,213.27 L185.79,210.43 L186.56,207.60 L187.33,204.77 L188.12,201.94 L188.93,199.12 L189.74,196.30 L190.57,193.49 L191.42,190.68 L192.27,187.88 L193.14,185.08 L194.03,182.28 L194.92,179.49 L195.83,176.70 L196.74,173.91 L197.67,171.13 L198.61,168.34 L199.56,165.56 L200.52,162.77 L201.48,159.99 L202.46,157.20 L203.46,154.42 L204.49,151.66 L205.58,148.91 L206.74,146.20 L207.98,143.52 L209.32,140.88 L210.78,138.30 L212.36,135.77 L214.10,133.31 L215.99,130.93 L218.06,128.63 L220.29,126.48 L222.64,124.57 L225.10,122.96 L227.63,121.73 L230.21,120.98 L232.82,120.76 L235.42,121.17 L237.98,122.16 L240.49,123.61 L242.92,125.39 L245.23,127.37 L247.42,129.46 L249.49,131.63 L251.45,133.88 L253.31,136.20 L255.09,138.58 L256.78,141.02 L258.40,143.50 L259.97,146.03 L261.48,148.58 L262.95,151.16 L264.40,153.75 L265.82,156.35 L267.22,158.96 L268.61,161.57 L269.98,164.18 L271.34,166.80 L272.68,169.42 L274.02,172.04 L275.34,174.67 L276.65,177.30 L277.95,179.93 L279.24,182.56 L280.53,185.20 L281.81,187.83 L283.08,190.47 L284.35,193.11 L285.62,195.75 L286.89,198.40 L288.15,201.04 L289.42,203.68 L290.68,206.32 L291.95,208.97 L293.22,211.61 L294.50,214.25 L295.78,216.89 L297.06,219.53 L298.35,222.16 L299.65,224.80 L300.96,227.43 L302.27,230.06 L303.58,232.69 L304.91,235.32 L306.24,237.94 L307.57,240.56 L308.92,243.18 L310.27,245.79 L311.63,248.41 L313.00,251.01 L314.38,253.61 L315.76,256.21 L317.16,258.81 L318.56,261.40 L319.97,263.98 L321.39,266.56 L322.82,269.13 L324.26,271.70 L325.71,274.27 L327.17,276.82 L328.64,279.37 L330.12,281.92 L331.61,284.46 L333.11,286.99 L334.62,289.51 L336.15,292.03 L337.68,294.54 L339.23,297.04 L340.79,299.53 L342.36,302.02 L343.94,304.50 L345.53,306.97 L347.14,309.43 L348.76,311.88 L350.39,314.32 L352.04,316.75 L353.69,319.18 L355.37,321.59 L357.05,323.99 L358.75,326.39 L360.47,328.77 L362.20,331.14 L363.94,333.50 L365.70,335.85 L367.47,338.19 L369.26,340.52 L371.06,342.84 L372.88,345.14 L374.71,347.43 L376.56,349.71 L378.42,351.98 L380.30,354.24 L382.20,356.48 L384.11,358.71 L386.03,360.93 L387.97,363.14 L389.92,365.33 L391.89,367.52 L393.87,369.69 L395.87,371.84 L397.88,373.99 L399.90,376.12 L401.94,378.24 L403.99,380.35 L406.05,382.44 L408.13,384.52 L410.22,386.59 L412.32,388.65 L414.44,390.69 L416.57,392.73 L418.71,394.74 L420.86,396.75 L423.03,398.74 L425.21,400.72 L427.40,402.69 L429.60,404.64 L431.81,406.58 L434.04,408.51 L436.27,410.43 L438.52,412.33 L440.78,414.22 L443.05,416.09 L445.33,417.95 L447.62,419.80 L449.92,421.64 L452.23,423.46 L454.56,425.27 L456.89,427.06 L459.23,428.84 L461.58,430.61 L463.94,432.37 L466.32,434.11 L468.70,435.84 L471.09,437.55 L473.49,439.25 L475.90,440.94 L478.31,442.61 L480.74,444.27 L483.17,445.92 L485.62,447.55 L488.07,449.17 L490.53,450.77 L493.00,452.36 L495.47,453.94 L497.96,455.50 L500.45,457.05 L502.95,458.59 L505.45,460.12 L507.96,461.63 L510.48,463.13 L513.01,464.61 L515.55,466.09 L518.09,467.55 L520.63,469.01 L523.19,470.45 L525.75,471.88 L528.32,473.30 L530.89,474.70 L533.47,476.10 L536.05,477.49 L538.64,478.87 L541.24,480.23 L543.84,481.59 L546.44,482.94 L549.05,484.28 L551.67,485.61 L554.29,486.93 L556.91,488.24 L559.54,489.55 L562.18,490.84 L564.82,492.13 L567.46,493.41 L570.11,494.68 L572.76,495.95 L575.41,497.21 L578.07,498.46 L580.73,499.70 L583.40,500.94 L586.06,502.17 L588.73,503.40 L591.41,504.62 L594.08,505.83 L596.76,507.04 L599.45,508.24 L602.13,509.44 L604.82,510.63 L607.51,511.82 L610.20,513.00 L612.89,514.18 L615.58,515.36 L618.28,516.53 L620.98,517.70 L623.68,518.86 L626.38,520.02 L629.08,521.18 L631.78,522.33 L634.49,523.48 L637.20,524.63 L639.90,525.77 L642.61,526.91 L645.33,528.04 L648.04,529.17 L650.75,530.30 L653.47,531.42 L656.18,532.55 L658.90,533.66 L661.62,534.78 L664.34,535.89 L667.07,537.00 L669.79,538.10 L672.52,539.20 L675.24,540.30 L677.97,541.40 L680.70,542.49 L683.43,543.58 L686.16,544.67 L688.89,545.75 L691.63,546.83 L694.36,547.91 L697.10,548.99 L699.83,550.06 L702.57,551.13 L705.31,552.20 L708.05,553.26 L710.79,554.33 L713.53,555.39 L716.28,556.44 L719.02,557.50 L721.77,558.55 L724.51,559.60 L727.26,560.65 L730.01,561.69 L732.76,562.74 L735.51,563.78 L738.26,564.82 L741.01,565.86 L743.76,566.89 L746.51,567.92 L749.27,568.95 L752.02,569.98 L754.78,571.01 L757.53,572.04 L760.29,573.06 L763.05,574.08 L765.81,575.10 L768.56,576.12 L771.32,577.13 L774.08,578.15 L776.85,579.16 L779.61,580.17 L782.37,581.18 L785.13,582.19 L787.89,583.20 L790.66,584.21 L793.42,585.21 L796.19,586.21 L798.95,587.22 L801.72,588.22 L804.48,589.22 L807.25,590.21 L810.02,591.21 L812.78,592.21 L815.55,593.20 L818.32,594.20 L821.09,595.19 L823.86,596.18 L826.63,597.17 L829.39,598.16 L832.16,599.15 L834.93,600.14 L837.70,601.13 L840.47,602.12 L843.24,603.10 L846.01,604.09 L848.79,605.08 L851.56,606.06 L854.33,607.05 L857.10,608.03 L859.87,609.01 L862.64,610.00 L865.41,610.98 L868.18,611.96 L870.95,612.95 L873.73,613.93 L876.50,614.91 L879.27,615.89 L882.04,616.88 L884.81,617.86 L887.58,618.84 L890.35,619.82 L893.12,620.80 L895.89,621.79 L898.66,622.77 L901.43,623.75 L904.20,624.73 L906.97,625.72 L909.74,626.70 L912.51,627.68 L915.28,628.67 L918.05,629.65 L920.82,630.64 L923.59,631.62 L926.36,632.61 L929.12,633.60 L931.89,634.59 L934.66,635.57 L937.42,636.56 L940.19,637.55 L942.95,638.54 L945.72,639.53 L948.48,640.53" stroke="#009500" stroke-dasharray="8.500 8.355" stroke-dashoffset="2.55" stroke-opacity="0.92"/>
</g>
<line x1="121.50" y1="464.90" x2="947.50" y2="464.90" stroke="#000000" stroke-opacity="0.70" stroke-width="1.9"/>
<path d="M121.50,0.00 V660.90" stroke="#727272" stroke-width="1" fill="none"/>
<path d="M947.50,0.00 V660.90" stroke="#666666" stroke-width="1" fill="none"/>
<path d="M121.00,660.40 H948.00" stroke="#686868" stroke-width="1" fill="none"/>
<path d="M121.00,0.50 H948.00" stroke="#3e3e3e" stroke-width="1" fill="none"/>
<line x1="407.8" y1="88.45" x2="454.3" y2="88.45" stroke="#0000ff" stroke-width="3.40"/>
<line x1="682.0" y1="88.10" x2="728.0" y2="88.10" stroke="#0000ff" stroke-width="3.30" stroke-dasharray="8.40 8.47"/>
<line x1="407.8" y1="139.45" x2="454.3" y2="139.45" stroke="#ff0000" stroke-width="3.40"/>
<line x1="682.0" y1="139.10" x2="728.0" y2="139.10" stroke="#ff0000" stroke-width="3.30" stroke-dasharray="8.40 8.47"/>
<line x1="407.8" y1="190.60" x2="454.3" y2="190.60" stroke="#009500" stroke-width="3.40" stroke-opacity="0.92"/>
<line x1="682.0" y1="190.25" x2="728.0" y2="190.25" stroke="#009500" stroke-width="3.30" stroke-dasharray="8.40 8.47" stroke-opacity="0.92"/>
<g style="opacity:0.999">
<text transform="matrix(0.40235 0 0 0.40000 95.691 79.400)" x="0" y="0" font-size="100" font-style="normal" fill="#000">8</text>
<text transform="matrix(0.42105 0 0 0.40743 95.111 178.093)" x="0" y="0" font-size="100" font-style="normal" fill="#000">6</text>
<text transform="matrix(0.41505 0 0 0.40456 95.570 276.200)" x="0" y="0" font-size="100" font-style="normal" fill="#000">4</text>
<text transform="matrix(0.45250 0 0 0.39396 94.964 375.000)" x="0" y="0" font-size="100" font-style="normal" fill="#000">2</text>
<text transform="matrix(0.40706 0 0 0.40000 95.774 473.800)" x="0" y="0" font-size="100" font-style="normal" fill="#000">0</text>
<text transform="matrix(0.43226 0 0 0.42000 68.839 576.115)" x="0" y="0" font-size="100" font-style="normal" fill="#000">−</text>
<text transform="matrix(0.43750 0 0 0.39698 94.931 571.900)" x="0" y="0" font-size="100" font-style="normal" fill="#000">2</text>
<text transform="matrix(0.39200 0 0 0.40735 174.270 695.289)" x="0" y="0" font-size="100" font-style="normal" fill="#000">15.0</text>
<text transform="matrix(0.39129 0 0 0.40295 323.076 694.896)" x="0" y="0" font-size="100" font-style="normal" fill="#000">15.2</text>
<text transform="matrix(0.38665 0 0 0.40444 472.017 694.893)" x="0" y="0" font-size="100" font-style="normal" fill="#000">15.4</text>
<text transform="matrix(0.38530 0 0 0.40886 621.329 695.287)" x="0" y="0" font-size="100" font-style="normal" fill="#000">15.6</text>
<text transform="matrix(0.39385 0 0 0.40735 769.254 695.289)" x="0" y="0" font-size="100" font-style="normal" fill="#000">15.8</text>
<text transform="matrix(0.40640 0 0 0.42184 414.981 762.130)" x="0" y="0" font-size="100" font-style="normal" fill="#000">Log</text>
<text transform="matrix(0.43789 0 0 0.37216 489.295 761.092)" x="0" y="0" font-size="100" font-style="italic" fill="#000">ρ</text>
<text transform="matrix(0.24845 0 0 0.26667 508.955 767.133)" x="0" y="0" font-size="100" font-style="italic" fill="#000">c</text>
<text transform="matrix(0.36854 0 0 0.38072 531.136 761.560)" x="0" y="0" font-size="100" font-style="normal" fill="#000">[</text>
<text transform="matrix(0.42008 0 0 0.41371 542.415 762.305)" x="0" y="0" font-size="100" font-style="normal" fill="#000">g/cm</text>
<text transform="matrix(0.28121 0 0 0.26468 625.864 745.135)" x="0" y="0" font-size="100" font-style="normal" fill="#000">3</text>
<text transform="matrix(0.37778 0 0 0.38072 640.678 761.560)" x="0" y="0" font-size="100" font-style="normal" fill="#000">]</text>
<text transform="rotate(-90) matrix(0.32540 0 0 0.40000 -428.658 40.600)" x="0" y="0" font-size="100" font-style="italic" fill="#000">ω</text>
<text transform="rotate(-90) matrix(0.29882 0 0 0.22667 -402.521 46.173)" x="0" y="0" font-size="100" font-style="normal" fill="#000">0</text>
<text transform="rotate(-90) matrix(0.30000 0 0 0.27623 -387.950 23.300)" x="0" y="0" font-size="100" font-style="normal" fill="#000">2</text>
<text transform="rotate(-90) matrix(0.39551 0 0 0.39277 -362.966 40.698)" x="0" y="0" font-size="100" font-style="normal" fill="#000">[</text>
<text transform="rotate(-90) matrix(0.41600 0 0 0.41037 -354.140 40.290)" x="0" y="0" font-size="100" font-style="normal" fill="#000">10</text>
<text transform="rotate(-90) matrix(0.26588 0 0 0.27852 -312.997 23.521)" x="0" y="0" font-size="100" font-style="normal" fill="#000">8</text>
<text transform="rotate(-90) matrix(0.32754 0 0 0.39792 -292.609 39.902)" x="0" y="0" font-size="100" font-style="italic" fill="#000">s</text>
<text transform="rotate(-90) matrix(0.29892 0 0 0.34000 -277.395 27.655)" x="0" y="0" font-size="100" font-style="normal" fill="#000">−</text>
<text transform="rotate(-90) matrix(0.30250 0 0 0.27623 -261.061 23.300)" x="0" y="0" font-size="100" font-style="normal" fill="#000">2</text>
<text transform="rotate(-90) matrix(0.37778 0 0 0.39277 -246.122 40.698)" x="0" y="0" font-size="100" font-style="normal" fill="#000">]</text>
<text transform="matrix(0.26525 0 0 0.29091 468.635 96.000)" x="0" y="0" font-size="100" font-style="normal" fill="#000" stroke="#ffffff" stroke-width="0.45" vector-effect="non-scaling-stroke">A</text>
<text transform="matrix(0.29462 0 0 0.29600 497.227 99.242)" x="0" y="0" font-size="100" font-style="normal" fill="#000" stroke="#ffffff" stroke-width="0.45" vector-effect="non-scaling-stroke">=</text>
<text transform="matrix(0.28683 0 0 0.28382 522.724 96.174)" x="0" y="0" font-size="100" font-style="normal" fill="#000" stroke="#ffffff" stroke-width="0.45" vector-effect="non-scaling-stroke">0.2</text>
<text transform="matrix(0.25181 0 0 0.22873 567.467 94.840)" x="0" y="0" font-size="100" font-style="normal" fill="#000" stroke="#ffffff" stroke-width="0.45" vector-effect="non-scaling-stroke">(s)</text>
<text transform="matrix(0.26525 0 0 0.29091 740.935 96.000)" x="0" y="0" font-size="100" font-style="normal" fill="#000" stroke="#ffffff" stroke-width="0.45" vector-effect="non-scaling-stroke">A</text>
<text transform="matrix(0.29462 0 0 0.29600 769.527 99.242)" x="0" y="0" font-size="100" font-style="normal" fill="#000" stroke="#ffffff" stroke-width="0.45" vector-effect="non-scaling-stroke">=</text>
<text transform="matrix(0.28683 0 0 0.28382 795.024 96.174)" x="0" y="0" font-size="100" font-style="normal" fill="#000" stroke="#ffffff" stroke-width="0.45" vector-effect="non-scaling-stroke">0.2</text>
<text transform="matrix(0.27582 0 0 0.22873 839.359 94.840)" x="0" y="0" font-size="100" font-style="normal" fill="#000" stroke="#ffffff" stroke-width="0.45" vector-effect="non-scaling-stroke">(r)</text>
<text transform="matrix(0.26525 0 0 0.29091 468.635 147.100)" x="0" y="0" font-size="100" font-style="normal" fill="#000" stroke="#ffffff" stroke-width="0.45" vector-effect="non-scaling-stroke">A</text>
<text transform="matrix(0.29462 0 0 0.29600 497.227 150.342)" x="0" y="0" font-size="100" font-style="normal" fill="#000" stroke="#ffffff" stroke-width="0.45" vector-effect="non-scaling-stroke">=</text>
<text transform="matrix(0.28316 0 0 0.28382 522.738 147.274)" x="0" y="0" font-size="100" font-style="normal" fill="#000" stroke="#ffffff" stroke-width="0.45" vector-effect="non-scaling-stroke">0.3</text>
<text transform="matrix(0.25181 0 0 0.22873 567.467 145.940)" x="0" y="0" font-size="100" font-style="normal" fill="#000" stroke="#ffffff" stroke-width="0.45" vector-effect="non-scaling-stroke">(s)</text>
<text transform="matrix(0.26525 0 0 0.29091 740.935 147.100)" x="0" y="0" font-size="100" font-style="normal" fill="#000" stroke="#ffffff" stroke-width="0.45" vector-effect="non-scaling-stroke">A</text>
<text transform="matrix(0.29462 0 0 0.29600 769.527 150.342)" x="0" y="0" font-size="100" font-style="normal" fill="#000" stroke="#ffffff" stroke-width="0.45" vector-effect="non-scaling-stroke">=</text>
<text transform="matrix(0.28316 0 0 0.28382 795.038 147.274)" x="0" y="0" font-size="100" font-style="normal" fill="#000" stroke="#ffffff" stroke-width="0.45" vector-effect="non-scaling-stroke">0.3</text>
<text transform="matrix(0.27582 0 0 0.22873 839.359 145.940)" x="0" y="0" font-size="100" font-style="normal" fill="#000" stroke="#ffffff" stroke-width="0.45" vector-effect="non-scaling-stroke">(r)</text>
<text transform="matrix(0.26525 0 0 0.29091 468.635 198.100)" x="0" y="0" font-size="100" font-style="normal" fill="#000" stroke="#ffffff" stroke-width="0.45" vector-effect="non-scaling-stroke">A</text>
<text transform="matrix(0.29462 0 0 0.29600 497.227 201.342)" x="0" y="0" font-size="100" font-style="normal" fill="#000" stroke="#ffffff" stroke-width="0.45" vector-effect="non-scaling-stroke">=</text>
<text transform="matrix(0.27724 0 0 0.28382 522.760 198.274)" x="0" y="0" font-size="100" font-style="normal" fill="#000" stroke="#ffffff" stroke-width="0.45" vector-effect="non-scaling-stroke">0.4</text>
<text transform="matrix(0.25181 0 0 0.22873 567.467 196.940)" x="0" y="0" font-size="100" font-style="normal" fill="#000" stroke="#ffffff" stroke-width="0.45" vector-effect="non-scaling-stroke">(s)</text>
<text transform="matrix(0.26525 0 0 0.29091 740.935 198.100)" x="0" y="0" font-size="100" font-style="normal" fill="#000" stroke="#ffffff" stroke-width="0.45" vector-effect="non-scaling-stroke">A</text>
<text transform="matrix(0.29462 0 0 0.29600 769.527 201.342)" x="0" y="0" font-size="100" font-style="normal" fill="#000" stroke="#ffffff" stroke-width="0.45" vector-effect="non-scaling-stroke">=</text>
<text transform="matrix(0.27724 0 0 0.28382 795.060 198.274)" x="0" y="0" font-size="100" font-style="normal" fill="#000" stroke="#ffffff" stroke-width="0.45" vector-effect="non-scaling-stroke">0.4</text>
<text transform="matrix(0.27582 0 0 0.22873 839.359 196.940)" x="0" y="0" font-size="100" font-style="normal" fill="#000" stroke="#ffffff" stroke-width="0.45" vector-effect="non-scaling-stroke">(r)</text>
<text transform="matrix(0.37551 0 0 0.32824 234.973 551.900)" x="0" y="0" font-size="100" font-style="normal" fill="#000" stroke="#ffffff" stroke-width="0.45" vector-effect="non-scaling-stroke">F</text>
<text transform="matrix(0.31529 0 0 0.30833 257.118 552.292)" x="0" y="0" font-size="100" font-style="normal" fill="#000" stroke="#ffffff" stroke-width="0.45" vector-effect="non-scaling-stroke">o</text>
<text transform="matrix(0.43934 0 0 0.29841 273.221 551.900)" x="0" y="0" font-size="100" font-style="normal" fill="#000" stroke="#ffffff" stroke-width="0.45" vector-effect="non-scaling-stroke">r</text>
<text transform="matrix(0.32745 0 0 0.30674 299.918 552.293)" x="0" y="0" font-size="100" font-style="italic" fill="#000" stroke="#ffffff" stroke-width="0.45" vector-effect="non-scaling-stroke">α</text>
<text transform="matrix(0.35484 0 0 0.31600 330.026 554.957)" x="0" y="0" font-size="100" font-style="normal" fill="#000" stroke="#ffffff" stroke-width="0.45" vector-effect="non-scaling-stroke">=</text>
<text transform="matrix(0.34118 0 0 0.33333 361.721 552.767)" x="0" y="0" font-size="100" font-style="normal" fill="#000" stroke="#ffffff" stroke-width="0.45" vector-effect="non-scaling-stroke">0</text>
<text transform="matrix(0.35000 0 0 0.35745 379.725 552.064)" x="0" y="0" font-size="100" font-style="normal" fill="#000" stroke="#ffffff" stroke-width="0.45" vector-effect="non-scaling-stroke">.</text>
<text transform="matrix(0.32235 0 0 0.33333 390.291 552.767)" x="0" y="0" font-size="100" font-style="normal" fill="#000" stroke="#ffffff" stroke-width="0.45" vector-effect="non-scaling-stroke">8</text>
</g>
</svg>
</body></html>
